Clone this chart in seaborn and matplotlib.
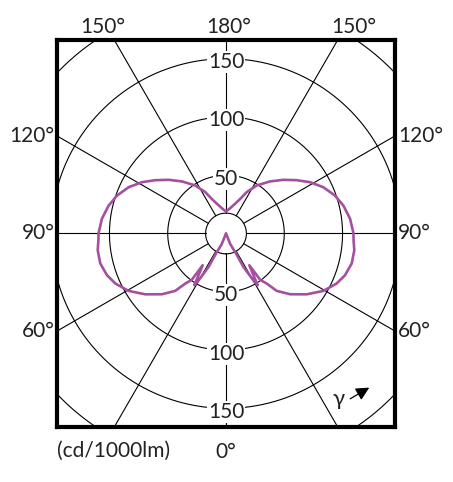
import numpy as np
import pandas as pd
import seaborn as sns
from matplotlib import pyplot as plt

# Luminous intensity curve (right half, in drawing order). gamma in degrees, 0 = straight down
gamma = [0, 22, 26.6, 27.5, 30.3, 31.5, 36.3, 36.5, 39.1, 41.5, 46.5, 53, 59.5, 65.7,
         70.7, 76.6, 82.6, 87, 90, 96.8, 103.4, 109.2, 115.4, 121.4, 127, 133.1,
         139.8, 147.4, 153.4, 157, 162, 167, 173, 180]
intensity = [0, 10, 19.2, 32.2, 46.4, 52, 33.8, 49.6, 55.3, 65.7, 75.7, 86.7, 97, 104.2,
             108.2, 110.9, 111, 109.6, 109.4, 107.2, 103.5, 99, 92.5, 84.5, 76, 67.4,
             58.5, 48.9, 39.7, 33, 27.5, 24, 21, 19]

ring_values = [50, 100, 150, 200]
ring_labels = ["50", "100", "150"]
inner_radius = 17.5
spoke_angles = list(range(0, 360, 30))
top_angles = [150, 180]
side_angles = [120, 90, 60]
unit_label = "(cd/1000lm)"

CURVE_COLOR = "#a4509f"
TEXT_COLOR = "#222222"
XLIM, YLIM = 145, 166


def polar_xy(r, g_deg, side=1):
    g = np.deg2rad(np.asarray(g_deg, dtype=float))
    r = np.asarray(r, dtype=float)
    return side * r * np.sin(g), -r * np.cos(g)


def main() -> None:
    sns.set_theme(style="white")
    plt.rcParams["font.family"] = ["Lato", "DejaVu Sans"]
    plt.rcParams["text.color"] = TEXT_COLOR

    fig = plt.figure(figsize=(4.53, 4.82), dpi=100)
    ax = fig.add_axes([57 / 453, 1 - 427 / 482, 338 / 453, 387 / 482])

    # grid: rings, inner circle and spokes
    t = np.linspace(0, 360, 361)
    for r in ring_values + [inner_radius]:
        x, y = polar_xy(np.full_like(t, r), t)
        ax.plot(x, y, color="black", lw=0.8, zorder=1)
    for a in spoke_angles:
        x, y = polar_xy([inner_radius, 400], [a, a])
        ax.plot(x, y, color="black", lw=0.8, zorder=1)

    # curve, mirrored on both sides
    rows = []
    for side, name in [(1, "right"), (-1, "left")]:
        x, y = polar_xy(intensity, gamma, side)
        for i, (xi, yi) in enumerate(zip(x, y)):
            rows.append({"x": xi, "y": yi, "side": name, "order": i})
    df = pd.DataFrame(rows)
    sns.lineplot(data=df, x="x", y="y", units="side", estimator=None, sort=False,
                 color=CURVE_COLOR, lw=1.9, ax=ax, zorder=3,
                 solid_joinstyle="round")

    # ring value labels along the vertical axis
    for r, lab in zip(ring_values, ring_labels):
        for sgn in (1, -1):
            ax.text(0, sgn * r - 3, lab, ha="center", va="center", fontsize=15,
                    zorder=4,
                    bbox=dict(boxstyle="square,pad=0.05", fc="white", ec="none"))

    # angle labels around the frame
    for a in top_angles:
        for sgn in ((1, -1) if a != 180 else (1,)):
            x = 0 if a == 180 else sgn * (YLIM * np.tan(np.deg2rad(180 - a)) + 12)
            ax.text(x + 2, 172, f"{a}°", ha="center", va="baseline", fontsize=15,
                    clip_on=False)
    for a in side_angles:
        y = -XLIM / np.tan(np.deg2rad(a)) if a != 90 else 0
        ax.text(XLIM + 2.5, y, f"{a}°", ha="left", va="center", fontsize=15,
                clip_on=False)
        ax.text(-XLIM - 2, y, f"{a}°", ha="right", va="center", fontsize=15,
                clip_on=False)
    ax.text(0, -192.7, "0°", ha="center", va="baseline", fontsize=15, clip_on=False)
    ax.text(-XLIM, -191.5, unit_label, ha="left", va="baseline", fontsize=15,
            clip_on=False)

    # gamma direction marker
    ax.text(97, -142, "γ", ha="center", va="center", fontsize=16)
    ax.annotate("", xy=(125, -131), xytext=(104.5, -143),
                arrowprops=dict(arrowstyle="-|>", color="black", lw=0.9,
                                mutation_scale=20))

    ax.set_xlim(-XLIM, XLIM)
    ax.set_ylim(-YLIM, YLIM)
    ax.set_xticks([])
    ax.set_yticks([])
    ax.set_xlabel("")
    ax.set_ylabel("")
    for sp in ax.spines.values():
        sp.set_visible(True)
        sp.set_color("black")
        sp.set_linewidth(3)
    legend = ax.get_legend()
    if legend is not None:
        legend.remove()

    fig.savefig("out.png", dpi=100, facecolor="white")
    plt.close(fig)


if __name__ == "__main__":
    main()
